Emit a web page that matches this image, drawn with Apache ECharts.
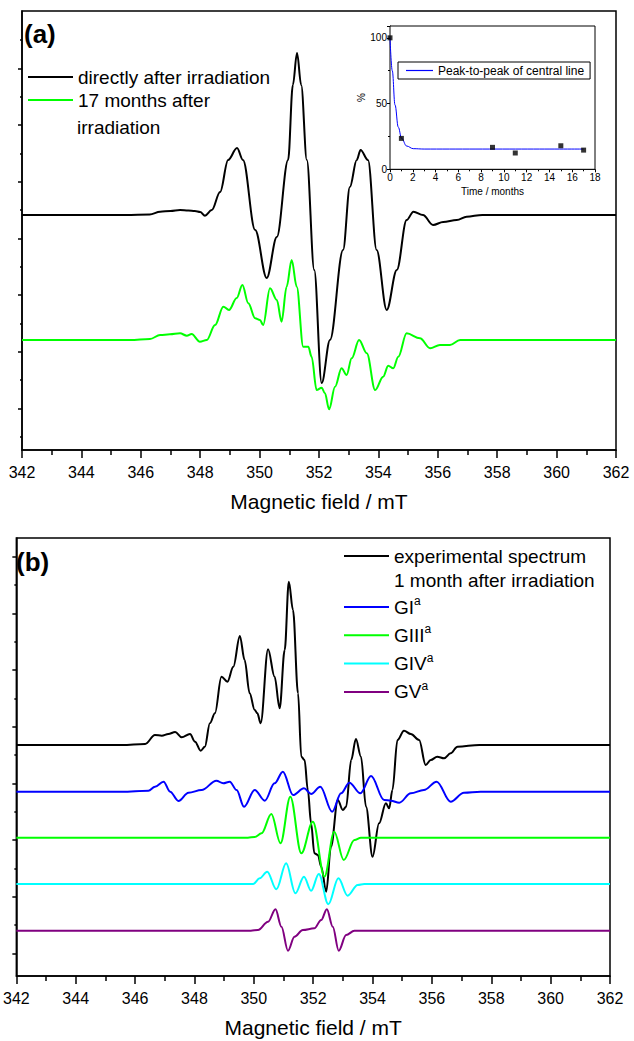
<!DOCTYPE html>
<html>
<head>
<meta charset="utf-8">
<script src="https://cdn.jsdelivr.net/npm/echarts@6/dist/echarts.min.js"></script>
<style>
html, body { margin: 0; padding: 0; background: #fff; }
#chart { width: 634px; height: 1041px; }
</style>
</head>
<body>
<div id="chart"></div>
<script>
// ---- panel (a) : spectra (field in mT, signal in arbitrary units) ----
var fieldA0 = [342, 345.5, 346.3, 346.65, 347.0, 347.32, 347.6, 347.82, 348.0, 348.16, 348.39, 348.67, 348.94, 349.24, 349.44, 349.85, 350.24, 350.58, 350.96, 351.12, 351.26, 351.40, 351.59, 351.84, 352.09, 352.37, 352.81, 353.04, 353.27, 353.40, 353.65, 353.94, 354.28, 354.62, 354.95, 355.18, 355.5, 355.84, 356.18, 356.64, 356.97, 357.5, 362];
var signalA0 = [235, 235, 235.5, 238.3, 239, 240, 239.5, 239, 238, 234.3, 240, 258, 290, 302, 290, 220, 172, 213, 290, 365, 397, 365, 290, 180, 67, 110, 200, 263, 290, 300, 290, 200, 140, 180, 230, 238.3, 235, 225, 228, 230, 233.3, 235, 235];

var fieldA17 = [342, 345.64, 346.31, 346.65, 346.98, 347.32, 347.55, 347.71, 347.99, 348.22, 348.50, 348.78, 348.97, 349.23, 349.42, 349.62, 349.85, 350.01, 350.12, 350.35, 350.58, 350.74, 350.91, 351.08, 351.25, 351.47, 351.64, 351.75, 351.92, 352.09, 352.20, 352.34, 352.54, 352.76, 352.93, 353.10, 353.35, 353.61, 353.89, 354.16, 354.33, 354.50, 354.67, 354.95, 355.40, 355.74, 356.07, 356.41, 356.75, 362];
var signalA17 = [110, 110, 111, 115, 115.7, 116.7, 114.3, 116, 108.3, 110, 125, 143.3, 140, 152, 165, 146.7, 131.7, 130, 125, 161.7, 150, 128.3, 163.3, 190, 163.3, 103.3, 103.3, 93.3, 60, 62.3, 56.7, 40.7, 63.3, 81.7, 75, 91.7, 110, 96.7, 60, 73.3, 84.3, 81.7, 93.3, 116.7, 111.7, 101.7, 105, 105, 110, 110];

// left-axis tick positions (no labels) in signal units
var ticksA = [41.7, 98.3, 155, 211.7, 268.3, 325, 381.7];
var minorTicksA = [13.3, 70, 126.7, 183.3, 240, 296.7, 353.3, 410];

// ---- inset : peak-to-peak of central line vs time ----
var insetMonths = [0, 1, 9, 11, 15, 17];
var insetPercent = [100, 23.5, 16.7, 12.4, 17.9, 14.6];
var fitMonths = [0, 0.2, 0.44, 0.73, 1.02, 1.46, 2.04, 3, 17];
var fitPercent = [100, 75, 49, 32, 23.5, 17.7, 15.7, 15.4, 15.4];

// ---- panel (b) : experimental spectrum and simulated components ----
var fieldBexp = [342, 345.56, 346.34, 346.67, 346.90, 347.12, 347.35, 347.57, 347.85, 348.02, 348.21, 348.35, 348.52, 348.69, 348.91, 349.11, 349.31, 349.53, 349.69, 349.86, 350.03, 350.12, 350.23, 350.48, 350.70, 350.87, 351.04, 351.18, 351.32, 351.49, 351.60, 351.71, 351.82, 351.93, 352.04, 352.16, 352.27, 352.44, 352.60, 352.83, 353.00, 353.11, 353.28, 353.44, 353.61, 353.78, 354.00, 354.22, 354.45, 354.56, 354.67, 354.84, 355.06, 355.29, 355.57, 355.79, 355.96, 356.18, 356.41, 356.63, 356.86, 357.6, 362];
var signalBexp = [231, 231, 232, 241, 240.3, 242, 244, 238.7, 242, 234.3, 225.3, 229.3, 252.7, 262.7, 299.3, 294.3, 309.3, 340, 316, 282.7, 266, 262.7, 252.7, 326.7, 299.3, 267.7, 326, 394.3, 366, 282.7, 219.3, 216, 186, 152.7, 122.7, 121, 109.3, 84.3, 129.3, 176, 166, 169.3, 216, 237, 219.3, 169.3, 119.3, 152.7, 172.7, 167.7, 186, 236, 245.3, 242, 236, 211, 216, 219.3, 217.7, 222.7, 229.3, 231, 231];

var fieldGI = [342, 345.56, 346.45, 346.67, 346.96, 347.18, 347.46, 347.80, 348.24, 348.74, 348.97, 349.19, 349.42, 349.67, 350.03, 350.37, 350.70, 350.98, 351.32, 351.69, 351.93, 352.24, 352.64, 352.94, 353.22, 353.59, 353.95, 354.39, 354.62, 354.90, 355.29, 355.73, 356.16, 356.63, 357.08, 357.64, 362];
var signalGI = [184.3, 184.3, 185.3, 189.3, 194.3, 184.3, 175, 183.3, 186, 195.3, 192.7, 194.3, 186, 169.3, 186, 175.3, 192.7, 204.3, 181, 187.7, 182, 189.3, 164.3, 182.7, 193.3, 182.7, 200, 176, 175.3, 173.3, 182.7, 186, 194.3, 174.3, 183.3, 184.3, 184.3];

var fieldGIII = [342, 349.8, 350.03, 350.26, 350.59, 350.90, 351.23, 351.60, 351.99, 352.38, 352.71, 353.03, 353.39, 353.61, 362];
var signalGIII = [138.3, 138.3, 139, 142.7, 162, 132.7, 179.3, 122.7, 154.3, 99.3, 144.3, 116, 136, 138.3, 138.3];

var fieldGIV = [342, 349.8, 349.98, 350.20, 350.45, 350.76, 351.09, 351.40, 351.69, 351.93, 352.19, 352.51, 352.85, 353.16, 353.50, 353.72, 362];
var signalGIV = [92, 92, 92, 97.7, 104.3, 86.7, 112.7, 82.7, 99.3, 85.3, 102, 71.7, 97.7, 80.3, 91, 92, 92];

var fieldGV = [342, 349.9, 350.14, 350.48, 350.73, 350.93, 351.15, 351.37, 351.65, 352.04, 352.27, 352.46, 352.66, 352.86, 353.11, 353.39, 362];
var signalGV = [45.3, 45.3, 46, 54.3, 66.7, 49.3, 25.3, 39.3, 46, 47.7, 56, 66.7, 49.3, 25.3, 41, 45.3, 45.3];

var ticksB = [22.7, 79.3, 136, 192.7, 249.3, 306, 362.7, 419.3];
var minorTicksB = [51, 107.7, 164.3, 221, 277.7, 334.3, 391];

var fieldTicks = { min: 342, max: 362, step: 2 };

var FONT = "'Liberation Sans', Arial, Helvetica, sans-serif";

function zip(xs, ys) {
  return xs.map(function (x, i) { return [x, ys[i]]; });
}

function fieldAxis(grid) {
  return {
    gridIndex: grid, type: 'value',
    min: fieldTicks.min, max: fieldTicks.max, interval: fieldTicks.step,
    name: 'Magnetic field / mT', nameLocation: 'middle', nameGap: 41,
    nameTextStyle: { fontSize: 21, color: '#000', fontFamily: FONT },
    axisLine: { lineStyle: { color: '#000', width: 1.5 } },
    axisTick: { length: 8, lineStyle: { color: '#000', width: 1.5 } },
    minorTick: { show: true, splitNumber: 2, length: 5, lineStyle: { color: '#000', width: 1.5 } },
    axisLabel: { fontSize: 16, color: '#000', margin: 14, fontFamily: FONT },
    splitLine: { show: false }
  };
}

// left axis of a spectrum panel: only ticks at given positions, no labels
function signalAxis(grid, top, ticks, len, showLine) {
  return {
    gridIndex: grid, type: 'value', min: 0, max: top, position: 'left',
    axisLine: { show: showLine, onZero: false, lineStyle: { color: '#000', width: 1.5 } },
    axisTick: { show: true, length: len, customValues: ticks, lineStyle: { color: '#000', width: 1.5 } },
    axisLabel: { show: false },
    splitLine: { show: false }
  };
}

function spectrum(name, xi, yi, xs, ys, color) {
  return {
    name: name, type: 'line', xAxisIndex: xi, yAxisIndex: yi,
    data: zip(xs, ys), symbol: 'none', smooth: 0.35, smoothMonotone: 'x',
    color: color, lineStyle: { color: color, width: 2 }, silent: true
  };
}

var chart = echarts.init(document.getElementById('chart'), null, { renderer: 'svg' });

var supRich = {
  n: { fontSize: 19, lineHeight: 24, fontFamily: FONT, color: '#000' },
  s: { fontSize: 12, lineHeight: 12, verticalAlign: 'top', fontFamily: FONT, color: '#000' }
};

chart.setOption({
  animation: false,
  backgroundColor: '#fff',
  textStyle: { fontFamily: FONT, color: '#000' },
  grid: [
    { left: 22, top: 11, width: 594, height: 439, show: true, borderColor: '#000', borderWidth: 1.5 },
    { left: 390, top: 26, width: 205, height: 143.3, show: true, borderColor: '#000', borderWidth: 1, backgroundColor: '#fff', z: 3 },
    { left: 14, top: 538, width: 596, height: 438, show: true, borderColor: '#000', borderWidth: 1.5 }
  ],
  xAxis: [
    fieldAxis(0),
    {
      gridIndex: 1, type: 'value', min: 0, max: 18, interval: 2,
      name: 'Time / months', nameLocation: 'middle', nameGap: 17,
      nameTextStyle: { fontSize: 10, color: '#000' },
      axisLine: { lineStyle: { color: '#000', width: 1 } },
      axisTick: { length: 3, lineStyle: { color: '#000' } },
      minorTick: { show: true, splitNumber: 2, length: 2, lineStyle: { color: '#000' } },
      axisLabel: { fontSize: 10, color: '#000', margin: 3 },
      splitLine: { show: false }
    },
    fieldAxis(2)
  ],
  yAxis: [
    signalAxis(0, 439, ticksA, 4, true),
    {
      gridIndex: 1, type: 'value', min: 0, max: 109, interval: 50,
      name: '%', nameLocation: 'middle', nameGap: 20,
      nameTextStyle: { fontSize: 10, color: '#000' },
      axisLine: { show: true, lineStyle: { color: '#000', width: 1 } },
      axisTick: { show: true, length: 3, lineStyle: { color: '#000' } },
      minorTick: { show: true, splitNumber: 2, length: 2, lineStyle: { color: '#000' } },
      axisLabel: { fontSize: 10, color: '#000', margin: 3, showMaxLabel: false,
        formatter: function (v) { return v % 50 === 0 ? String(v) : ''; } },
      splitLine: { show: false }
    },
    signalAxis(2, 438, ticksB, 4, true),
    signalAxis(0, 439, minorTicksA, 2, false),
    signalAxis(2, 438, minorTicksB, 2, false)
  ],
  legend: [
    {
      data: ['directly after irradiation', '17 months after'],
      orient: 'vertical', left: 28, top: 65.5, padding: 0, icon: 'rect',
      itemWidth: 45, itemHeight: 2, itemGap: 0, selectedMode: false,
      textStyle: { fontSize: 19, lineHeight: 23, color: '#000', fontFamily: FONT }
    },
    {
      data: ['Peak-to-peak of central line'],
      left: 398, top: 62, itemWidth: 27, itemHeight: 1.2, icon: 'rect', padding: [2, 6, 2, 8],
      borderColor: '#000', borderWidth: 1, backgroundColor: '#fff', selectedMode: false, z: 5,
      textStyle: { fontSize: 12, lineHeight: 13, color: '#000', fontFamily: FONT }
    },
    {
      data: ['experimental spectrum'],
      orient: 'vertical', left: 344, top: 544.5, padding: 0, icon: 'rect',
      itemWidth: 45, itemHeight: 2, selectedMode: false,
      textStyle: { fontSize: 19, lineHeight: 23, color: '#000', fontFamily: FONT }
    },
    {
      data: ['GI', 'GIII', 'GIV', 'GV'],
      orient: 'vertical', left: 344, top: 595, padding: 0, icon: 'rect',
      itemWidth: 45, itemHeight: 2, itemGap: 4.3, selectedMode: false,
      formatter: function (name) { return '{n|' + name + '}{s|a}'; },
      textStyle: { fontSize: 19, lineHeight: 24, color: '#000', fontFamily: FONT, rich: supRich }
    }
  ],
  graphic: [
    { type: 'text', x: 24, y: 34, style: { text: '(a)', font: 'bold 26px ' + FONT, fill: '#000', verticalAlign: 'middle' } },
    { type: 'text', x: 77, y: 127, style: { text: 'irradiation', font: '19px ' + FONT, fill: '#000', verticalAlign: 'middle' } },
    { type: 'text', x: 16, y: 562, style: { text: '(b)', font: 'bold 26px ' + FONT, fill: '#000', verticalAlign: 'middle' } },
    { type: 'text', x: 394, y: 580, style: { text: '1 month after irradiation', font: '19px ' + FONT, fill: '#000', verticalAlign: 'middle' } }
  ],
  series: [
    spectrum('directly after irradiation', 0, 0, fieldA0, signalA0, '#000000'),
    spectrum('17 months after', 0, 0, fieldA17, signalA17, '#00ff00'),
    {
      name: 'Peak-to-peak of central line', type: 'line', xAxisIndex: 1, yAxisIndex: 1,
      data: zip(fitMonths, fitPercent), symbol: 'none', smooth: 0.4, smoothMonotone: 'x',
      color: '#0000ff', lineStyle: { color: '#0000ff', width: 1 }, z: 4, silent: true
    },
    {
      name: 'measured', type: 'scatter', xAxisIndex: 1, yAxisIndex: 1,
      data: zip(insetMonths, insetPercent), symbol: 'rect', symbolSize: 5,
      itemStyle: { color: '#000' }, z: 5, silent: true
    },
    spectrum('experimental spectrum', 2, 2, fieldBexp, signalBexp, '#000000'),
    spectrum('GI', 2, 2, fieldGI, signalGI, '#0000ff'),
    spectrum('GIII', 2, 2, fieldGIII, signalGIII, '#00ff00'),
    spectrum('GIV', 2, 2, fieldGIV, signalGIV, '#00ffff'),
    spectrum('GV', 2, 2, fieldGV, signalGV, '#800080')
  ]
});
</script>
</body>
</html>
